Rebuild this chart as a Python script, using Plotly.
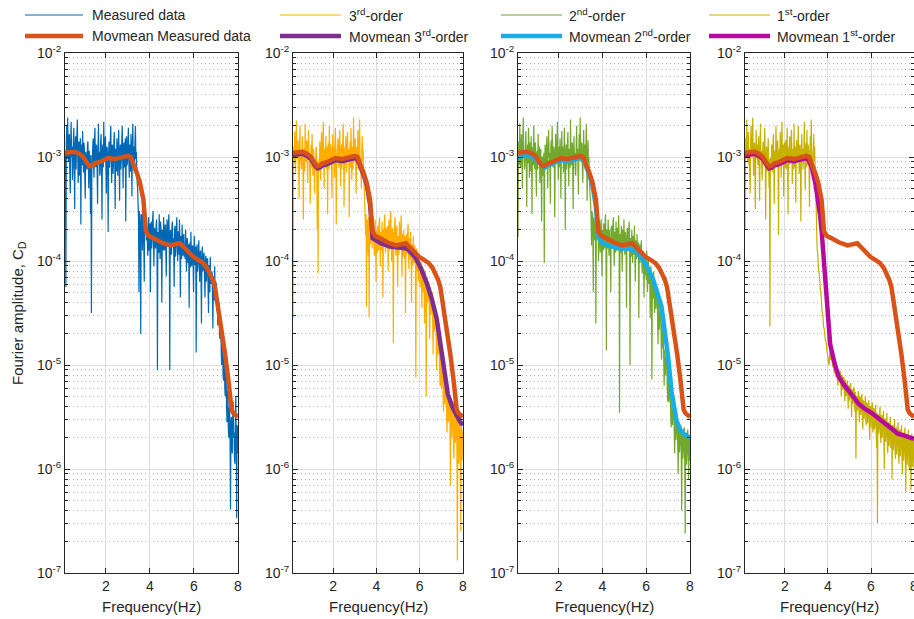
import numpy as np
import plotly.graph_objects as go

# ---------------------------------------------------------------------------
# Spectra: uniform frequency bins (Hz) and log10 of the Fourier amplitude C_D
# ---------------------------------------------------------------------------
FREQ_START_HZ = 0.14
FREQ_STEP_HZ = 0.02

measured_log10 = [
    -2.95, -3.10, -4.25, -2.88, -2.70, -3.02, -2.62, -2.92, -3.05, -2.80, -2.78, -3.15, -3.35, -2.84, -2.66, -3.00, -2.90, -3.22, -3.10, -2.86,
    -2.72, -3.05, -3.50, -2.90, -2.80, -3.12, -2.95, -2.78, -2.64, -3.00, -3.25, -2.88, -2.85, -3.18, -3.05, -2.82, -3.65, -2.96, -2.88, -3.08,
    -2.75, -3.02, -3.15, -2.86, -2.92, -3.20, -3.40, -2.95, -2.98, -3.10, -3.12, -2.90, -2.85, -3.06, -3.30, -2.94, -3.00, -3.16, -3.55, -2.98,
    -4.50, -3.12, -3.05, -2.90, -2.82, -3.08, -3.20, -2.84, -2.72, -3.00, -3.10, -2.88, -2.90, -3.14, -3.45, -2.92, -2.68, -3.04, -2.95, -3.18,
    -3.15, -2.86, -2.78, -3.06, -3.60, -2.94, -2.88, -3.10, -2.66, -2.96, -3.05, -2.84, -2.80, -3.12, -3.35, -2.90, -2.92, -3.04, -3.72, -2.98,
    -2.85, -3.10, -3.00, -2.82, -2.70, -3.04, -3.25, -2.88, -2.90, -3.16, -3.08, -2.86, -2.76, -3.02, -3.50, -2.92, -2.95, -3.14, -2.82, -3.00,
    -3.18, -2.90, -2.74, -3.06, -3.42, -2.92, -2.88, -3.12, -3.02, -2.84, -2.70, -3.00, -3.30, -2.90, -2.86, -3.10, -2.97, -2.82, -3.62, -3.02,
    -2.80, -3.08, -3.05, -2.86, -2.72, -3.00, -3.20, -2.88, -2.92, -3.14, -2.78, -2.96, -3.38, -2.90, -2.68, -3.04, -2.90, -3.12, -3.15, -2.84,
    -2.70, -3.02, -2.95, -3.10, -3.25, -3.30,
    -3.45, -3.58, -4.30, -3.52, -3.60, -3.75, -4.70, -3.56, -3.55, -3.68, -3.90, -3.50, -3.50, -3.82, -4.20, -3.60, -3.62, -3.74, -3.55, -3.80,
    -3.70, -3.82, -3.95, -3.66, -3.58, -3.90, -3.85, -3.64, -4.30, -3.76, -3.62, -3.88, -3.78, -3.60, -3.52, -3.80, -4.05, -3.68, -3.70, -3.86,
    -3.88, -3.66, -3.60, -3.84, -5.05, -3.72, -3.75, -3.92, -3.55, -3.74, -3.98, -3.62, -3.68, -3.86, -4.40, -3.70, -3.72, -3.90, -3.58, -3.78,
    -3.90, -3.68, -3.65, -3.88, -4.15, -3.70, -3.60, -3.82, -3.82, -3.64, -3.55, -3.86, -5.05, -3.74, -3.70, -3.94, -3.92, -3.66, -3.62, -3.84,
    -3.78, -3.92, -4.25, -3.70, -3.66, -3.96, -3.85, -3.68, -3.58, -3.88, -4.00, -3.72, -3.72, -3.94, -3.60, -3.82, -4.35, -3.76, -3.80, -3.98,
    -3.65, -3.88, -3.95, -3.76, -3.74, -3.96,
    -3.88, -3.98, -3.70, -3.92, -4.10, -3.80, -3.78, -4.02, -3.95, -3.84, -4.45, -3.90, -3.82, -4.06, -3.72, -3.94, -4.05, -3.86, -3.85, -4.00,
    -4.30, -3.88, -3.76, -4.04, -3.98, -3.86, -4.88, -3.96, -3.84, -4.10, -4.02, -3.90, -3.80, -4.06, -4.20, -3.92, -3.90, -4.14, -4.60, -3.96,
    -3.86, -4.10, -4.08, -3.94, -3.92, -4.16, -4.35, -4.00, -3.95, -4.20, -4.12, -3.98, -3.98, -4.26, -4.50, -4.04, -4.05, -4.30, -3.96, -4.18,
    -4.22, -4.12, -4.10, -4.34, -4.65, -4.16, -4.15, -4.38, -4.05, -4.28, -4.40, -4.20, -4.25, -4.48,
    -4.30, -4.62, -4.55, -4.42, -4.40, -4.70, -4.75, -4.58, -4.60, -4.90, -5.00, -4.78, -4.80, -5.08, -5.15, -4.92, -4.95, -5.22, -5.30, -5.05,
    -5.10, -5.40, -5.55, -5.25, -5.25, -5.60, -5.70, -5.42, -5.40, -5.75, -6.39, -5.55, -5.50, -5.80, -5.85, -5.48, -5.35, -5.70, -5.65, -5.90,
    -5.95, -5.50, -5.30, -5.75, -6.47, -5.58, -5.60, -5.85,
]

order3_log10 = [
    -4.55, -3.20, -2.90, -3.06, -2.75, -2.96, -3.15, -2.86, -2.65, -3.02, -3.00, -2.84, -2.85, -3.10, -3.40, -2.92, -2.70, -3.04, -2.95, -3.12,
    -3.10, -2.88, -2.80, -3.08, -3.60, -2.94, -2.92, -3.14, -2.68, -2.98, -3.05, -2.86, -2.84, -3.06, -3.25, -2.90, -2.74, -3.02, -3.00, -3.16,
    -3.45, -2.96, -2.88, -3.10, -2.78, -3.00, -3.18, -2.92, -2.95, -3.12, -3.35, -3.02, -3.08, -2.94, -2.90, -3.16, -3.70, -3.05, -4.12, -3.10,
    -3.02, -3.14, -2.85, -3.00, -3.22, -2.90, -2.76, -3.04, -3.05, -2.88, -2.66, -2.98, -3.30, -2.94, -2.92, -3.10, -2.80, -3.02, -3.12, -2.90,
    -3.55, -2.98, -2.86, -3.12, -2.70, -2.96, -3.02, -2.88, -2.94, -3.14, -3.40, -2.92, -2.78, -3.04, -2.90, -3.08, -3.20, -2.86, -2.72, -3.00,
    -3.65, -3.04, -2.96, -2.88, -2.82, -3.06, -3.10, -2.90, -2.74, -3.00, -3.28, -2.94, -2.88, -3.12, -3.02, -2.84, -2.68, -2.98, -3.48, -3.06,
    -2.90, -3.08, -2.80, -2.98, -3.15, -2.88, -2.76, -3.04, -3.00, -2.92, -3.58, -3.06, -2.85, -3.10, -2.72, -2.94, -3.22, -2.90, -2.94, -3.12,
    -2.62, -2.96, -3.05, -2.86, -2.82, -3.10, -3.35, -2.92, -2.90, -3.06, -2.74, -2.98, -3.12, -2.88, -2.64, -3.02, -3.00, -3.14, -3.30, -2.94,
    -2.80, -3.04, -2.92, -3.12, -3.20, -3.35,
    -3.50, -3.62, -3.75, -3.55, -4.44, -3.64, -3.60, -3.80, -3.95, -3.58, -4.54, -3.70, -3.58, -3.84, -3.80, -3.62, -3.66, -3.88, -3.62, -3.76,
    -3.72, -3.84, -3.95, -3.68, -3.60, -3.88, -4.20, -3.70, -3.78, -3.92, -3.66, -3.80, -3.90, -3.64, -3.58, -3.86, -4.05, -3.72, -3.74, -3.90,
    -3.62, -3.86, -4.35, -3.70, -3.80, -3.66, -3.55, -3.84, -3.92, -3.70, -3.68, -3.88, -3.85, -3.66, -4.10, -3.74, -3.60, -3.90, -3.76, -3.64,
    -3.52, -3.80, -4.00, -3.68, -3.70, -3.92, -4.79, -3.72, -3.82, -3.64, -3.58, -3.86, -3.95, -3.70, -3.66, -3.90, -4.25, -3.76, -3.78, -3.94,
    -3.62, -3.84, -3.88, -3.68, -3.56, -3.86, -4.15, -3.74, -3.80, -3.96, -3.70, -3.88, -3.98, -3.76, -4.50, -3.84, -3.74, -3.94, -3.86, -3.72,
    -3.64, -3.90, -4.08, -3.78, -3.82, -3.98, -3.72, -3.88, -4.40, -3.84, -3.90, -4.04, -3.76, -3.92, -4.02, -3.86, -3.85, -4.06, -5.12, -3.92,
    -3.88, -4.10, -3.96, -4.04, -4.20, -3.98,
    -3.95, -4.12, -4.25, -4.04, -4.00, -4.22, -4.45, -4.10, -4.05, -4.30, -4.18, -4.08, -4.60, -4.24, -4.10, -4.34, -5.30, -4.20, -4.15, -4.40,
    -4.35, -4.22, -4.20, -4.44, -4.75, -4.30, -4.25, -4.52, -4.45, -4.34, -4.30, -4.62, -4.90, -4.46, -4.40, -4.68, -4.55, -4.50, -4.45, -4.78,
    -5.05, -4.70, -4.62, -4.90, -4.85, -4.80, -4.75, -5.05, -5.20, -4.92, -4.95, -5.22, -5.15, -5.02, -5.00, -5.30, -5.45, -5.10, -5.12, -5.38,
    -5.30, -5.22, -5.20, -5.44, -5.65, -5.28, -5.25, -5.55, -5.48, -5.34, -5.30, -5.62, -6.16, -5.40, -5.38, -5.70, -5.55, -5.42, -5.35, -5.80,
    -5.90, -5.50, -5.45, -5.75, -5.70, -5.48, -5.40, -5.85, -6.88, -5.56, -5.52, -5.95, -5.80, -5.50, -5.50, -6.05, -6.60, -5.62, -5.60, -5.92,
    -5.75, -5.64,
]

order2_log10 = [
    -3.77, -3.00, -2.85, -3.08, -2.68, -2.94, -3.10, -2.86, -2.78, -3.04, -3.30, -2.90, -2.62, -2.98, -2.95, -3.12, -3.05, -2.88, -2.75, -3.02,
    -3.48, -2.96, -2.88, -3.06, -2.72, -2.92, -3.20, -2.86, -2.98, -3.14, -2.80, -3.00, -3.55, -2.94, -2.90, -3.08, -2.70, -2.96, -3.12, -2.88,
    -2.86, -3.10, -3.38, -2.96, -2.94, -3.12, -2.78, -3.02, -3.05, -2.90, -3.25, -3.06, -2.92, -3.16, -3.62, -3.00, -3.00, -3.18, -3.15, -2.96,
    -4.02, -3.10, -2.88, -3.04, -3.08, -2.92, -2.80, -3.06, -3.30, -2.94, -2.74, -3.00, -2.96, -3.12, -3.45, -2.90, -2.84, -3.04, -2.70, -2.98,
    -3.10, -2.90, -2.92, -3.08, -3.58, -2.96, -2.78, -3.04, -3.02, -2.88, -2.66, -2.98, -3.22, -2.94, -2.90, -3.10, -2.82, -3.02, -3.40, -2.96,
    -2.75, -3.04, -2.98, -2.90, -3.15, -2.94, -2.72, -3.02, -3.70, -2.98, -2.88, -3.12, -3.00, -2.86, -2.76, -3.06, -3.28, -2.92, -2.94, -3.10,
    -2.64, -2.98, -3.08, -2.88, -2.86, -3.12, -3.50, -2.94, -2.80, -3.02, -2.96, -3.14, -3.18, -2.90, -2.70, -3.00, -2.92, -3.08, -3.36, -2.94,
    -2.78, -3.02, -2.62, -2.92, -3.05, -2.86, -2.88, -3.10, -3.25, -2.94, -2.74, -3.04, -2.96, -2.88, -3.12, -2.98, -2.68, -3.06, -3.42, -2.96,
    -2.84, -3.06, -3.00, -3.14, -3.30, -3.38,
    -3.45, -3.60, -3.85, -3.52, -3.55, -3.72, -4.30, -3.58, -3.62, -3.80, -3.78, -3.60, -4.60, -3.66, -3.58, -3.76, -3.70, -3.62, -4.00, -3.74,
    -3.68, -3.84, -3.92, -3.66, -3.60, -3.86, -4.15, -3.70, -3.75, -3.90, -3.64, -3.80, -3.88, -3.62, -3.55, -3.84, -4.86, -3.70, -3.72, -3.88,
    -3.60, -3.82, -3.95, -3.70, -3.78, -3.90, -4.30, -3.68, -3.66, -3.86, -3.84, -3.64, -3.58, -3.88, -4.05, -3.72, -3.74, -3.92, -3.62, -3.80,
    -3.90, -3.68, -3.70, -3.88, -3.56, -3.80, -5.46, -3.74, -3.80, -3.92, -3.66, -3.86, -4.10, -3.70, -3.72, -3.90, -3.60, -3.84, -3.94, -3.72,
    -3.76, -3.92, -4.45, -3.74, -3.68, -3.90, -3.86, -3.70, -3.62, -3.88, -5.00, -3.78, -3.82, -3.96, -3.70, -3.86, -4.02, -3.76, -3.78, -3.94,
    -3.66, -3.88, -4.20, -3.80, -3.88, -3.98, -3.74, -3.92, -3.96, -3.82, -4.55, -3.90, -3.84, -4.02, -3.92, -3.86, -3.80, -4.04, -4.12, -3.92,
    -3.90, -4.06, -4.35, -3.98, -3.96, -4.14,
    -4.05, -4.18, -3.90, -4.08, -4.30, -4.02, -4.00, -4.22, -4.15, -4.06, -4.55, -4.20, -4.05, -4.28, -5.14, -4.16, -4.20, -4.36, -4.10, -4.26,
    -4.50, -4.30, -4.25, -4.46, -4.40, -4.34, -4.30, -4.58, -4.80, -4.42, -4.38, -4.66, -4.55, -4.50, -4.45, -4.74, -4.95, -4.62, -4.60, -4.84,
    -4.72, -4.96, -5.20, -4.88, -4.85, -5.10, -5.00, -4.94, -4.90, -5.22, -5.35, -5.06, -5.10, -5.36, -5.30, -5.22, -5.20, -5.50, -5.60, -5.34,
    -5.35, -5.58, -5.50, -5.44, -5.40, -5.66, -5.85, -5.52, -5.48, -5.72, -5.62, -5.54, -5.50, -5.80, -6.05, -5.60, -5.55, -5.84, -5.75, -5.58,
    -5.58, -5.86, -6.40, -5.64, -5.62, -5.90, -5.80, -5.62, -5.60, -5.94, -6.62, -5.70, -5.65, -5.96, -5.85, -5.66, -5.62, -5.88, -6.10, -5.72,
    -5.70, -5.92,
]

order1_log10 = [
    -3.70, -3.04, -2.82, -2.98, -2.64, -2.92, -3.05, -2.86, -2.76, -3.08, -2.92, -3.14, -3.35, -2.90, -2.70, -2.96, -3.00, -2.84, -2.62, -2.98,
    -3.18, -2.92, -2.86, -3.06, -3.50, -2.94, -2.74, -3.02, -2.96, -2.88, -3.08, -2.90, -2.80, -3.12, -3.42, -2.96, -2.68, -3.00, -2.94, -3.10,
    -3.22, -2.96, -2.85, -3.06, -3.02, -2.88, -2.72, -3.00, -3.60, -3.04, -2.90, -3.14, -3.12, -2.94, -2.82, -3.08, -3.30, -3.02, -4.63, -3.10,
    -3.00, -3.12, -2.88, -3.04, -3.15, -2.90, -2.78, -3.02, -3.45, -2.96, -2.94, -3.10, -2.70, -2.98, -3.08, -2.88, -2.84, -3.06, -3.75, -2.98,
    -2.92, -3.06, -2.76, -2.96, -3.20, -2.90, -2.66, -3.00, -3.02, -2.88, -3.38, -2.98, -2.86, -3.10, -2.96, -2.84, -3.12, -2.94, -2.72, -3.04,
    -3.55, -2.96, -2.90, -3.08, -2.80, -2.94, -3.05, -2.86, -2.74, -3.00, -3.26, -2.92, -2.94, -3.12, -2.68, -2.96, -3.10, -2.90, -3.44, -3.02,
    -2.84, -3.06, -2.98, -2.88, -2.70, -3.00, -3.16, -2.92, -2.88, -3.10, -3.62, -2.96, -2.78, -3.04, -2.92, -3.12, -3.04, -2.90, -2.66, -2.98,
    -3.32, -2.94, -2.86, -3.10, -2.74, -2.96, -3.08, -2.88, -2.94, -3.12, -3.48, -2.98, -2.80, -3.04, -2.64, -2.92, -3.00, -3.14, -3.20, -2.96,
    -2.78, -3.04, -2.90, -3.10, -3.25, -3.40,
    -3.55, -3.78, -3.90, -3.92, -4.00, -4.08, -4.10, -4.14, -4.20, -4.27, -4.30, -4.33, -4.40, -4.48, -4.50, -4.52,
    -4.58, -4.64, -4.65, -4.68, -4.72, -4.77, -4.76, -4.80, -4.85, -4.88, -4.90, -4.92, -4.95, -5.00, -4.98, -4.90,
    -4.85, -4.92, -4.95, -4.86, -4.88, -4.98, -5.02, -4.92, -4.94, -5.06, -5.08, -4.96, -4.98, -5.10, -5.12, -5.00, -5.02, -5.14, -5.20, -5.04,
    -5.05, -5.16, -5.14, -5.06, -5.08, -5.20, -5.30, -5.10, -5.10, -5.24, -5.22, -5.12, -5.12, -5.26, -5.35, -5.14, -5.16, -5.30, -5.28, -5.18,
    -5.15, -5.28, -5.42, -5.20, -5.20, -5.34, -5.30, -5.18, -5.18, -5.36, -5.50, -5.24, -5.24, -5.38, -5.35, -5.22, -5.22, -5.40, -5.45, -5.26,
    -5.90, -5.32, -5.30, -5.44, -5.40, -5.28, -5.25, -5.46, -5.55, -5.30, -5.32, -5.48, -5.44, -5.30, -5.28, -5.50, -5.62, -5.34, -5.35, -5.52,
    -5.46, -5.36, -5.30, -5.54, -5.58, -5.36, -5.38, -5.56, -5.50, -5.38, -5.34, -5.58, -5.72, -5.40, -5.40, -5.60, -5.52, -5.40, -5.36, -5.62,
    -5.65, -5.42, -5.42, -5.62, -5.56, -5.44, -5.38, -5.64, -5.80, -5.46, -6.52, -5.48, -5.48, -5.66, -5.60, -5.46, -5.40, -5.68, -5.75, -5.50,
    -5.48, -5.70, -5.62, -5.50, -5.44, -5.72, -6.00, -5.52, -5.52, -5.74, -5.66, -5.54, -5.46, -5.76, -5.85, -5.56, -5.55, -5.78, -5.70, -5.56,
    -5.50, -5.80, -5.78, -5.58, -6.10, -5.60, -5.58, -5.82, -5.72, -5.58, -5.52, -5.84, -5.90, -5.62, -5.60, -5.86, -5.74, -5.62, -5.55, -5.88,
    -5.95, -5.64, -5.62, -5.88, -5.78, -5.64, -5.58, -5.90, -6.05, -5.66, -5.65, -5.92, -5.80, -5.66, -5.60, -5.94, -6.22, -5.68, -5.68, -5.96,
    -5.84, -5.70, -5.62, -5.96, -6.00, -5.70, -5.70, -5.98, -6.20, -5.72, -5.66, -5.98, -5.88, -5.72, -5.72, -6.00,
]

# ---------------------------------------------------------------------------
# Moving-mean curves: frequency (Hz) and log10 amplitude
# ---------------------------------------------------------------------------
movmean_measured_hz = [
    0.14, 0.35, 0.6, 0.8, 0.97, 1.15, 1.27, 1.4, 1.5, 1.7,
    1.88, 2.1, 2.4, 2.64, 2.85, 3.0, 3.12, 3.24, 3.4, 3.55,
    3.7, 3.82, 3.95, 4.15, 4.5, 4.9, 5.1, 5.36, 5.6, 5.97,
    6.2, 6.42, 6.6, 6.73, 6.85, 6.95, 7.05, 7.18, 7.3, 7.41,
    7.56, 7.71, 7.78, 7.86, 8.0,
]
movmean_measured_log10 = [
    -2.96, -2.96, -2.95, -2.97, -3.00, -3.06, -3.09, -3.08, -3.06, -3.05,
    -3.03, -3.01, -3.02, -3.01, -3.00, -2.99, -3.00, -3.06, -3.15, -3.25,
    -3.41, -3.72, -3.76, -3.78, -3.82, -3.85, -3.84, -3.83, -3.88, -3.96,
    -3.99, -4.02, -4.07, -4.12, -4.18, -4.25, -4.38, -4.57, -4.73, -4.89,
    -5.14, -5.43, -5.46, -5.48, -5.50,
]

movmean_order3_hz = [
    0.14, 0.35, 0.6, 0.8, 0.97, 1.15, 1.27, 1.4, 1.5, 1.7,
    1.88, 2.1, 2.4, 2.64, 2.85, 3.0, 3.12, 3.24, 3.4, 3.55,
    3.7, 3.82, 3.95, 4.2, 4.63, 5.0, 5.4, 5.78, 6.05, 6.32,
    6.55, 6.78, 6.9, 7.02, 7.15, 7.3, 7.5, 7.71, 7.85, 8.0,
]
movmean_order3_log10 = [
    -2.98, -2.98, -2.97, -2.99, -3.02, -3.08, -3.11, -3.10, -3.08, -3.07,
    -3.05, -3.03, -3.04, -3.03, -3.02, -3.01, -3.02, -3.08, -3.17, -3.27,
    -3.45, -3.78, -3.80, -3.83, -3.86, -3.87, -3.88, -3.96, -4.07, -4.21,
    -4.36, -4.55, -4.72, -4.90, -5.12, -5.28, -5.40, -5.50, -5.54, -5.58,
]

movmean_order2_hz = [
    0.14, 0.35, 0.6, 0.8, 0.97, 1.15, 1.36, 1.5, 1.7, 1.88,
    2.1, 2.4, 2.64, 2.85, 3.0, 3.12, 3.24, 3.4, 3.55, 3.7,
    3.8, 4.03, 4.4, 4.79, 5.1, 5.4, 5.62, 5.86, 6.1, 6.32,
    6.5, 6.7, 6.85, 7.0, 7.16, 7.28, 7.39, 7.55, 7.69, 7.85,
    8.0,
]
movmean_order2_log10 = [
    -3.00, -2.99, -2.98, -3.00, -3.03, -3.07, -3.10, -3.08, -3.06, -3.05,
    -3.03, -3.04, -3.03, -3.02, -3.01, -3.02, -3.08, -3.17, -3.28, -3.48,
    -3.77, -3.83, -3.86, -3.88, -3.88, -3.89, -3.93, -3.99, -4.08, -4.18,
    -4.30, -4.44, -4.68, -4.92, -5.26, -5.44, -5.54, -5.62, -5.66, -5.68,
    -5.70,
]

movmean_order1_hz = [
    0.14, 0.35, 0.6, 0.8, 0.97, 1.15, 1.27, 1.4, 1.5, 1.7,
    1.88, 2.1, 2.4, 2.64, 2.85, 3.0, 3.1, 3.25, 3.41, 3.53,
    3.64, 3.72, 3.8, 3.88, 3.95, 4.02, 4.1, 4.3, 4.49, 4.7,
    4.95, 5.2, 5.41, 5.7, 6.02, 6.3, 6.64, 6.95, 7.25, 7.55,
    7.87, 8.0,
]
movmean_order1_log10 = [
    -2.98, -2.98, -2.97, -2.99, -3.02, -3.08, -3.11, -3.10, -3.08, -3.07,
    -3.05, -3.03, -3.04, -3.03, -3.02, -3.01, -3.03, -3.10, -3.25, -3.40,
    -3.57, -3.75, -3.96, -4.20, -4.42, -4.62, -4.80, -4.98, -5.11, -5.18,
    -5.24, -5.31, -5.37, -5.42, -5.46, -5.50, -5.56, -5.61, -5.66, -5.68,
    -5.70, -5.71,
]

# Axis ticks
x_tick_vals = [2, 4, 6, 8]
y_decades = [-7, -6, -5, -4, -3, -2]

# ---------------------------------------------------------------------------
n_bins = len(measured_log10)
for series in (order3_log10, order2_log10, order1_log10):
    assert len(series) == n_bins, (len(series), n_bins)
freq_hz = FREQ_START_HZ + FREQ_STEP_HZ * np.arange(n_bins)


def amp(log_values):
    return np.power(10.0, np.asarray(log_values, dtype=float))


FONT = "Liberation Sans, Arial, Helvetica, sans-serif"
INK = "#262626"
ORANGE = "#D95319"

panels = [
    dict(raw=measured_log10, raw_color="#0068B5", raw_name="Measured data",
         mm_hz=None, mm_log=None, mm_color=None,
         mm_name="Movmean Measured data"),
    dict(raw=order3_log10, raw_color="#FFAE00", raw_name="3<sup>rd</sup>-order",
         mm_hz=movmean_order3_hz, mm_log=movmean_order3_log10, mm_color="#7E2F8E",
         mm_name="Movmean 3<sup>rd</sup>-order"),
    dict(raw=order2_log10, raw_color="#72A82C", raw_name="2<sup>nd</sup>-order",
         mm_hz=movmean_order2_hz, mm_log=movmean_order2_log10, mm_color="#17AEE8",
         mm_name="Movmean 2<sup>nd</sup>-order"),
    dict(raw=order1_log10, raw_color="#C6B100", raw_name="1<sup>st</sup>-order",
         mm_hz=movmean_order1_hz, mm_log=movmean_order1_log10, mm_color="#B8099E",
         mm_name="Movmean 1<sup>st</sup>-order"),
]

PAGE_W, PAGE_H = 914, 619
panel_px = [(65, 238), (293, 463), (518, 690), (745, 914)]
PLOT_TOP, PLOT_BOTTOM = 53, 573
legend_px = [(25, 83, 90), (280, 341, 347), (501, 562, 567), (709, 770, 775)]
LEGEND_ROWS = (15, 36)


def fx(px):
    return px / PAGE_W


def fy(py):
    return 1 - py / PAGE_H


fig = go.Figure()
layout = dict(
    width=PAGE_W, height=PAGE_H,
    margin=dict(l=0, r=0, t=0, b=0, autoexpand=False),
    paper_bgcolor="white", plot_bgcolor="white",
    showlegend=False,
    font=dict(family=FONT, size=14, color=INK),
)

minor_vals = [k * 10.0 ** e for e in range(-7, -2) for k in range(2, 10)]
annotations = []
shapes = []

for k, p in enumerate(panels, start=1):
    sfx = "" if k == 1 else str(k)
    xref, yref = "x" + sfx, "y" + sfx
    left, right = panel_px[k - 1]

    fig.add_trace(go.Scatter(
        x=freq_hz, y=amp(p["raw"]), mode="lines", name=p["raw_name"],
        line=dict(color=p["raw_color"], width=1.2, simplify=False),
        xaxis=xref, yaxis=yref))
    if p["mm_hz"] is not None:
        fig.add_trace(go.Scatter(
            x=p["mm_hz"], y=amp(p["mm_log"]), mode="lines", name=p["mm_name"],
            line=dict(color=p["mm_color"], width=4.5), xaxis=xref, yaxis=yref))
    fig.add_trace(go.Scatter(
        x=movmean_measured_hz, y=amp(movmean_measured_log10), mode="lines",
        name="Movmean Measured data", line=dict(color=ORANGE, width=4.5),
        xaxis=xref, yaxis=yref))

    layout["xaxis" + sfx] = dict(
        domain=[fx(left), fx(right)], anchor=yref,
        range=[FREQ_START_HZ, 8], tickmode="array", tickvals=x_tick_vals,
        ticks="inside", ticklen=5, tickcolor=INK, tickwidth=1,
        showline=True, linecolor=INK, linewidth=1, mirror="ticks",
        showgrid=True, gridcolor="#dcdcdc", gridwidth=1, zeroline=False,
        ticklabeloverflow="allow",
        tickfont=dict(family=FONT, size=14, color=INK),
    )
    layout["yaxis" + sfx] = dict(
        domain=[fy(PLOT_BOTTOM), fy(PLOT_TOP)], anchor=xref,
        type="log", range=[-7, -2], tickmode="array",
        tickvals=[10.0 ** d for d in y_decades],
        ticktext=["10<sup>%d</sup>" % d for d in y_decades],
        ticks="inside", ticklen=5, tickcolor=INK, tickwidth=1,
        showline=True, linecolor=INK, linewidth=1, mirror="ticks",
        showgrid=True, gridcolor="#dcdcdc", gridwidth=1, zeroline=False,
        tickfont=dict(family=FONT, size=14, color=INK),
        minor=dict(tickmode="array", tickvals=minor_vals, ticks="inside",
                   ticklen=3, tickcolor=INK, showgrid=True,
                   gridcolor="#b4b4b4", griddash="1px,3px", gridwidth=1),
    )

    annotations.append(dict(
        text="Frequency(Hz)", x=fx((left + right) / 2), y=fy(606),
        xref="paper", yref="paper", showarrow=False, xanchor="center",
        yanchor="middle", font=dict(family=FONT, size=15, color=INK)))

    # legend entries above each panel
    x0, x1, xt = legend_px[k - 1]
    entries = [(p["raw_name"], p["raw_color"], 1.2),
               (p["mm_name"], p["mm_color"] or ORANGE, 4.5)]
    for (label, color, width), row in zip(entries, LEGEND_ROWS):
        shapes.append(dict(type="line", xref="paper", yref="paper",
                           x0=fx(x0), x1=fx(x1), y0=fy(row), y1=fy(row),
                           line=dict(color=color, width=width)))
        annotations.append(dict(
            text=label, x=fx(xt), y=fy(row), xref="paper", yref="paper",
            showarrow=False, xanchor="left", yanchor="middle", align="left",
            font=dict(family=FONT, size=14, color=INK)))

annotations.append(dict(
    text="Fourier amplitude, C<sub>D</sub>", x=fx(18), y=fy((PLOT_TOP + PLOT_BOTTOM) / 2),
    xref="paper", yref="paper", showarrow=False, textangle=-90,
    xanchor="center", yanchor="middle", font=dict(family=FONT, size=15, color=INK)))

layout["annotations"] = annotations
layout["shapes"] = shapes
fig.update_layout(**layout)

fig.write_html("out.html")
